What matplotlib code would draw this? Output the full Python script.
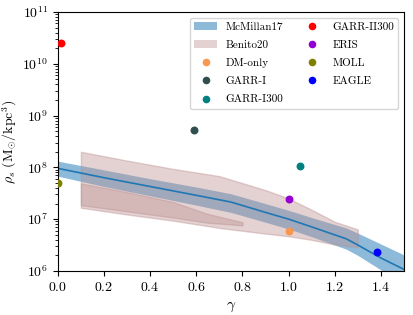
import numpy as np
import matplotlib
matplotlib.use("Agg")
import matplotlib.pyplot as plt
from matplotlib.lines import Line2D
from matplotlib.patches import Patch

plt.rcParams['font.family'] = 'serif'
plt.rcParams['font.serif'] = ['cmr10']
plt.rcParams['mathtext.fontset'] = 'cm'
plt.rcParams['axes.formatter.use_mathtext'] = True

# McMillan17 band (log10 rho_s)
mcm_gamma = [0.0, 0.2, 0.4, 0.6, 0.75, 0.9, 1.0, 1.1, 1.25, 1.3, 1.4, 1.5]
mcm_mid = [7.98, 7.80, 7.63, 7.46, 7.33, 7.13, 7.00, 6.85, 6.62, 6.50, 6.25, 6.03]
mcm_up = [8.12, 7.95, 7.78, 7.62, 7.49, 7.30, 7.17, 7.03, 6.83, 6.73, 6.52, 6.31]
mcm_lo = [7.83, 7.63, 7.45, 7.27, 7.13, 6.94, 6.81, 6.66, 6.42, 6.30, 6.02, 5.78]

# Benito20 outer band
ben_gamma = [0.1, 0.3, 0.5, 0.7, 0.9, 1.0, 1.1, 1.2, 1.3]
ben_up = [8.30, 8.13, 7.97, 7.83, 7.56, 7.40, 7.18, 6.95, 6.80]
ben_lo = [7.22, 7.09, 6.97, 6.83, 6.72, 6.67, 6.60, 6.51, 6.46]

# Benito20 inner band
ben2_gamma = [0.1, 0.3, 0.5, 0.65, 0.8]
ben2_up = [7.69, 7.52, 7.33, 7.10, 6.94]
ben2_lo = [7.27, 7.15, 7.03, 6.93, 6.88]

# simulations: name, gamma, rho_s, colour
sim_names = ['DM-only', 'GARR-I', 'GARR-I300', 'GARR-II300', 'ERIS', 'MOLL', 'EAGLE']
sim_gamma = [1.0, 0.59, 1.05, 0.015, 1.0, 0.0, 1.385]
sim_rho = [5.9e6, 5.2e8, 1.05e8, 2.5e10, 2.4e7, 4.9e7, 2.3e6]
sim_colors = ['#f99650', 'darkslategray', 'teal', 'red', 'darkviolet', 'olive', 'blue']

fig = plt.figure(figsize=(4.13, 3.15), dpi=100)
ax = fig.add_axes([0.14, 0.14, 0.838, 0.822])

ax.fill_between(mcm_gamma, 10**np.array(mcm_lo), 10**np.array(mcm_up),
                color='C0', alpha=0.5, lw=0)
ax.plot(mcm_gamma, 10**np.array(mcm_mid), color='C0', lw=1.2)

ax.fill_between(ben_gamma, 10**np.array(ben_lo), 10**np.array(ben_up),
                color='rosybrown', alpha=0.4)
ax.fill_between(ben2_gamma, 10**np.array(ben2_lo), 10**np.array(ben2_up),
                color='rosybrown', alpha=0.4)

for name, g, r, c in zip(sim_names, sim_gamma, sim_rho, sim_colors):
    ax.scatter(g, r, color=c, s=22, zorder=5)

ax.set_yscale('log')
ax.set_xlim(0, 1.5)
ax.set_ylim(1e6, 1e11)
ax.set_xlabel(r'$\gamma$', fontsize=11)
ax.set_ylabel(r'$\rho_s\ (\mathrm{M}_{\odot}/\mathrm{kpc}^3)$', fontsize=10, labelpad=2)
ax.tick_params(labelsize=10)

handles = [Patch(facecolor='C0', alpha=0.5, lw=0, label='McMillan17'),
           Patch(facecolor='rosybrown', alpha=0.4, lw=0, label='Benito20')]
for name, c in zip(sim_names, sim_colors):
    handles.append(Line2D([0], [0], marker='o', color='w', markerfacecolor=c,
                          markersize=6.5, label=name))
ax.legend(handles=handles, ncol=2, loc='upper right', labelspacing=0.75,
          fontsize=8, columnspacing=1.6, handlelength=2.0)

fig.savefig('out.png', dpi=100)
